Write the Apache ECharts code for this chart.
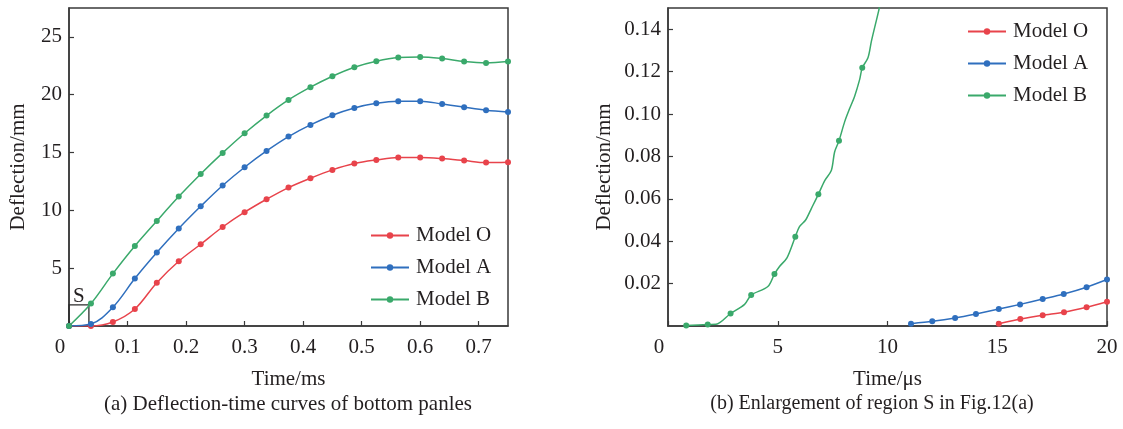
<!DOCTYPE html>
<html>
<head>
<meta charset="utf-8">
<script src="https://cdn.jsdelivr.net/npm/echarts@6/dist/echarts.min.js"></script>
<style>
  html, body { margin: 0; padding: 0; background: #fff; }
  #chart { width: 1123px; height: 429px; }
</style>
</head>
<body>
<div id="chart"></div>
<script>
// (a) Deflection-time curves, time in ms
const timeMs = [0, 0.0375, 0.075, 0.1125, 0.15, 0.1875, 0.225, 0.2625, 0.3, 0.3375, 0.375,
  0.4125, 0.45, 0.4875, 0.525, 0.5625, 0.6, 0.6375, 0.675, 0.7125, 0.75];
const modelO = [0, 0.0, 0.35, 1.47, 3.75, 5.6, 7.07, 8.56, 9.84, 10.96, 11.97,
  12.78, 13.5, 14.05, 14.36, 14.57, 14.57, 14.48, 14.31, 14.13, 14.16];
const modelA = [0, 0.17, 1.62, 4.1, 6.35, 8.43, 10.35, 12.15, 13.73, 15.14, 16.38,
  17.39, 18.23, 18.86, 19.26, 19.44, 19.44, 19.2, 18.92, 18.66, 18.51];
const modelB = [0, 1.94, 4.53, 6.92, 9.08, 11.19, 13.15, 14.97, 16.67, 18.2, 19.55,
  20.65, 21.6, 22.38, 22.9, 23.22, 23.27, 23.13, 22.87, 22.75, 22.87];

// region S (ms, mm)
const regionS = { t: [0, 0.034], d: [0, 1.82] };

// (b) enlargement, time in µs
const enlTimeO = [15.07, 16.05, 17.07, 18.04, 19.07, 20.0];
const enlO = [0.0011, 0.0033, 0.0051, 0.0065, 0.0088, 0.0114];
const enlTimeA = [11.07, 12.04, 13.08, 14.03, 15.07, 16.04, 17.07, 18.03, 19.07, 20.0];
const enlA = [0.0011, 0.0022, 0.0038, 0.0057, 0.0080, 0.0102, 0.0127, 0.0151, 0.0183, 0.0219];
const enlTimeB = [0.83, 1.81, 2.19, 2.85, 3.49, 3.79, 4.55, 4.85, 5.08, 5.42, 5.8, 5.99, 6.27,
  6.53, 6.85, 7.14, 7.44, 7.59, 7.79, 8.05, 8.28, 8.5, 8.73, 8.85, 9.11, 9.27, 9.6, 9.75];
const enlB = [0.0002, 0.0007, 0.0008, 0.0059, 0.0102, 0.0146, 0.0186, 0.0245, 0.0281, 0.0321,
  0.0421, 0.0469, 0.05, 0.0554, 0.0621, 0.0686, 0.0733, 0.0821, 0.0874, 0.0964, 0.1027,
  0.1083, 0.1162, 0.1218, 0.1265, 0.1345, 0.1488, 0.156];
// 1 = sampled point drawn with a marker
const enlBMarked = [1, 1, 0, 1, 0, 1, 0, 1, 0, 0, 1, 0, 0, 0, 1, 0, 0, 0, 1, 0, 0, 0, 0, 1, 0, 0, 0, 0];

const seriesNames = ['Model O', 'Model A', 'Model B'];
const xTicksA = [0, 0.1, 0.2, 0.3, 0.4, 0.5, 0.6, 0.7];
const xTicksB = [0, 5, 10, 15, 20];

const captionA = '(a) Deflection-time curves of bottom panles';
const captionB = '(b) Enlargement of region S in Fig.12(a)';

const FONT = '"Liberation Serif", "Times New Roman", serif';
const FS = 21;
const TEXT = '#231f20';
const AXIS = '#3a3a3a';
const COLORS = ['#e8434b', '#2f6fbe', '#3aa96b'];

const pairs = (xs, ys) => xs.map((x, i) => [x, ys[i]]);

function axisCommon(extra) {
  return Object.assign({
    axisLine: { show: true, onZero: false, lineStyle: { color: AXIS, width: 1.5 } },
    axisTick: { show: true, inside: true, length: 5, lineStyle: { color: AXIS, width: 1.2 } },
    splitLine: { show: false },
    nameTextStyle: { fontFamily: FONT, fontSize: FS, color: TEXT },
    nameLocation: 'middle'
  }, extra);
}

function labelStyle(extra) {
  return Object.assign({
    fontFamily: FONT, fontSize: FS, color: TEXT, margin: 11
  }, extra);
}

// origin label sits a little left of the corner
const originRich = { o: { fontFamily: FONT, fontSize: FS, color: TEXT, padding: [0, 18, 0, 0] } };

function lineSeries(name, data, color, xi, extra) {
  return Object.assign({
    name: name,
    type: 'line',
    xAxisIndex: xi, yAxisIndex: xi,
    data: data,
    smooth: 0.35,
    symbol: 'circle',
    symbolSize: 6,
    showAllSymbol: true,
    clip: true,
    lineStyle: { color: color, width: 1.5 },
    itemStyle: { color: color },
    emphasis: { disabled: true },
    z: 3
  }, extra || {});
}

function legendAt(left, top) {
  return {
    data: seriesNames, orient: 'vertical', left: left, top: top, padding: 0,
    itemWidth: 38, itemHeight: 8, itemGap: 11,
    textStyle: { fontFamily: FONT, fontSize: FS, color: TEXT, padding: [0, 0, 0, 2] },
    selectedMode: false
  };
}

const chart = echarts.init(document.getElementById('chart'), null, { renderer: 'canvas' });

const option = {
  animation: false,
  backgroundColor: '#ffffff',
  grid: [
    { left: 69, top: 8, width: 439, height: 318, show: true, borderColor: AXIS, borderWidth: 1.5,
      backgroundColor: 'transparent', outerBoundsMode: 'none' },
    { left: 668, top: 8, width: 439, height: 318, show: true, borderColor: AXIS, borderWidth: 1.5,
      backgroundColor: 'transparent', outerBoundsMode: 'none' }
  ],
  xAxis: [
    axisCommon({
      gridIndex: 0, type: 'value', min: 0, max: 0.75, interval: 0.1,
      name: 'Time/ms', nameGap: 43,
      axisLabel: labelStyle({
        showMaxLabel: false,
        rich: originRich,
        formatter: v => (v === 0 ? '{o|0}' : (xTicksA.includes(+v.toFixed(2)) ? v.toFixed(1) : ''))
      })
    }),
    axisCommon({
      gridIndex: 1, type: 'value', min: 0, max: 20, interval: 5,
      name: 'Time/μs', nameGap: 43,
      axisLabel: labelStyle({
        rich: originRich,
        formatter: v => (v === 0 ? '{o|0}' : (xTicksB.includes(v) ? String(v) : ''))
      })
    })
  ],
  yAxis: [
    axisCommon({
      gridIndex: 0, type: 'value', min: 0, max: 27.5, interval: 5,
      name: 'Deflection/mm', nameGap: 40,
      axisLabel: labelStyle({ showMinLabel: false, showMaxLabel: false, margin: 7 })
    }),
    axisCommon({
      gridIndex: 1, type: 'value', min: 0, max: 0.15, interval: 0.02,
      name: 'Deflection/mm', nameGap: 53,
      axisLabel: labelStyle({ showMinLabel: false, showMaxLabel: false, margin: 7,
        formatter: v => v.toFixed(2) })
    })
  ],
  legend: [legendAt(370, 225), legendAt(967, 21)],
  series: [
    lineSeries(seriesNames[0], pairs(timeMs, modelO), COLORS[0], 0, {
      markArea: {
        silent: true,
        itemStyle: { color: 'transparent', borderColor: '#2b2b2b', borderWidth: 1.3 },
        label: { show: true, position: 'top', distance: -3, formatter: 'S',
          fontFamily: FONT, fontSize: FS, color: TEXT },
        data: [[{ xAxis: regionS.t[0], yAxis: regionS.d[0] }, { xAxis: regionS.t[1], yAxis: regionS.d[1] }]]
      }
    }),
    lineSeries(seriesNames[1], pairs(timeMs, modelA), COLORS[1], 0),
    lineSeries(seriesNames[2], pairs(timeMs, modelB), COLORS[2], 0),
    lineSeries(seriesNames[0], pairs(enlTimeO, enlO), COLORS[0], 1, { smooth: 0.25 }),
    lineSeries(seriesNames[1], pairs(enlTimeA, enlA), COLORS[1], 1, { smooth: 0.25 }),
    lineSeries(seriesNames[2], enlTimeB.map((t, i) => (
      enlBMarked[i] ? [t, enlB[i]] : { value: [t, enlB[i]], symbol: 'none' }
    )), COLORS[2], 1, { smooth: 0.3 })
  ],
  graphic: [
    { type: 'text', x: 288, y: 404, silent: true,
      style: { text: captionA, fontFamily: FONT, fontSize: FS, fill: TEXT, align: 'center', verticalAlign: 'middle' } },
    { type: 'text', x: 872, y: 404, silent: true,
      style: { text: captionB, fontFamily: FONT, fontSize: 20, fill: TEXT, align: 'center', verticalAlign: 'middle' } }
  ]
};

chart.setOption(option);
</script>
</body>
</html>
